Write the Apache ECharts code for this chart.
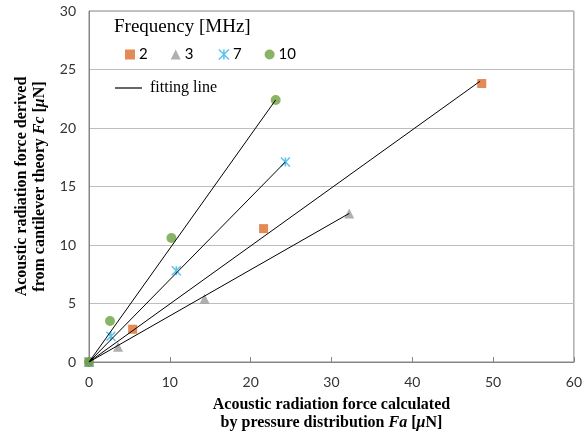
<!DOCTYPE html>
<html>
<head>
<meta charset="utf-8">
<script src="https://cdn.jsdelivr.net/npm/echarts@6/dist/echarts.min.js"></script>
<style>
  html, body { margin: 0; padding: 0; background: #fff; }
  #chart { width: 585px; height: 437px; }
</style>
</head>
<body>
<div id="chart"></div>
<script>
// 测量数据：Fa (x) 与 Fc (y)，单位 μN
const freqNames = ['2', '3', '7', '10'];
const fa2 = [0, 5.4, 21.6, 48.6];
const fc2 = [0, 2.8, 11.4, 23.8];
const fa3 = [0, 3.6, 14.3, 32.2];
const fc3 = [0, 1.3, 5.4, 12.7];
const fa7 = [0, 2.7, 10.8, 24.3];
const fc7 = [0, 2.2, 7.8, 17.1];
const fa10 = [0, 2.6, 10.2, 23.1];
const fc10 = [0, 3.5, 10.6, 22.4];

// 拟合直线终点（起点为原点）
const fitEndX = [48.4, 32.2, 24.3, 23.1];
const fitEndY = [24.0, 12.7, 17.1, 22.4];

const xTicks = [0, 10, 20, 30, 40, 50, 60];
const yTicks = [0, 5, 10, 15, 20, 25, 30];

const colors = ['#DD6E2B', '#9B9B9B', '#2FB4EA', '#6BA140'];
const symbols = ['rect', 'triangle', 'path://M0,0L10,10M10,0L0,10M5,0L5,10', 'circle'];
const sizes = [9, 10, 9, 10];

const xs = [fa2, fa3, fa7, fa10];
const ys = [fc2, fc3, fc7, fc10];

const chart = echarts.init(document.getElementById('chart'));

const scatterSeries = freqNames.map((name, i) => {
    const isStar = i === 2;
    return {
        name: name,
        type: 'scatter',
        data: xs[i].map((x, k) => [x, ys[i][k]]),
        symbol: symbols[i],
        symbolSize: sizes[i],
        itemStyle: isStar
            ? { color: 'none', borderColor: colors[i], borderWidth: 1.5 }
            : { color: colors[i] },
        z: 2
    };
});

const lineSeries = fitEndX.map((x, i) => ({
    name: 'fitting line',
    type: 'line',
    data: [[0, 0], [x, fitEndY[i]]],
    showSymbol: false,
    symbol: 'none',
    lineStyle: { color: '#000', width: 1 },
    itemStyle: { color: '#000' },
    z: 3,
    silent: true
}));

const titleFont = {
    fontFamily: 'Liberation Serif',
    fontWeight: 'bold',
    fontSize: 16,
    color: '#000',
    lineHeight: 18
};

const option = {
    animation: false,
    title: {
        text: 'Frequency [MHz]',
        left: 114,
        top: 18,
        padding: 0,
        textStyle: { fontFamily: 'Liberation Serif', fontSize: 19, fontWeight: 'normal', color: '#000' }
    },
    legend: [
        {
            data: freqNames.map((n, i) => ({
                name: n,
                icon: symbols[i],
                itemStyle: i === 2
                    ? { color: 'none', borderColor: colors[i], borderWidth: 1.5 }
                    : { color: colors[i] }
            })),
            left: 120,
            top: 42,
            itemWidth: 10,
            itemHeight: 10,
            itemGap: 23,
            textStyle: { fontFamily: 'Lato', fontSize: 15, color: '#000', padding: [0, 0, 0, -1] }
        },
        {
            data: [{ name: 'fitting line', icon: 'rect' }],
            left: 110,
            top: 75,
            itemWidth: 27,
            itemHeight: 1.2,
            itemGap: 8,
            textStyle: { fontFamily: 'Liberation Serif', fontSize: 16, color: '#000', padding: [0, 0, 0, 3] }
        }
    ],
    grid: {
        left: 89,
        right: 7,
        top: 11,
        bottom: 74,
        show: true,
        borderColor: '#868686',
        borderWidth: 1,
        containLabel: false
    },
    xAxis: {
        type: 'value',
        min: xTicks[0],
        max: xTicks[xTicks.length - 1],
        interval: 10,
        name: 'Acoustic radiation force calculated\nby pressure distribution {i|Fa} [{i|μ}N]',
        nameLocation: 'middle',
        nameGap: 34,
        nameTextStyle: Object.assign({}, titleFont, {
            rich: { i: Object.assign({}, titleFont, { fontStyle: 'italic' }) }
        }),
        axisLine: { lineStyle: { color: '#868686' } },
        axisTick: { show: true, inside: true, length: 5, lineStyle: { color: '#868686' } },
        axisLabel: { fontFamily: 'Lato', fontSize: 14, color: '#333', margin: 13 },
        splitLine: { show: false }
    },
    yAxis: {
        type: 'value',
        min: yTicks[0],
        max: yTicks[yTicks.length - 1],
        interval: 5,
        name: 'Acoustic radiation force derived\nfrom cantilever theory {i|Fc} [{i|μ}N]',
        nameLocation: 'middle',
        nameRotate: 90,
        nameGap: 33,
        nameTextStyle: Object.assign({}, titleFont, {
            rich: { i: Object.assign({}, titleFont, { fontStyle: 'italic' }) }
        }),
        axisLine: { show: true, lineStyle: { color: '#868686' } },
        axisTick: { show: false },
        axisLabel: { fontFamily: 'Lato', fontSize: 14, color: '#333', margin: 13 },
        splitLine: { show: true, lineStyle: { color: '#BEBEBE', width: 1 } }
    },
    series: scatterSeries.concat(lineSeries)
};

chart.setOption(option);
</script>
</body>
</html>
